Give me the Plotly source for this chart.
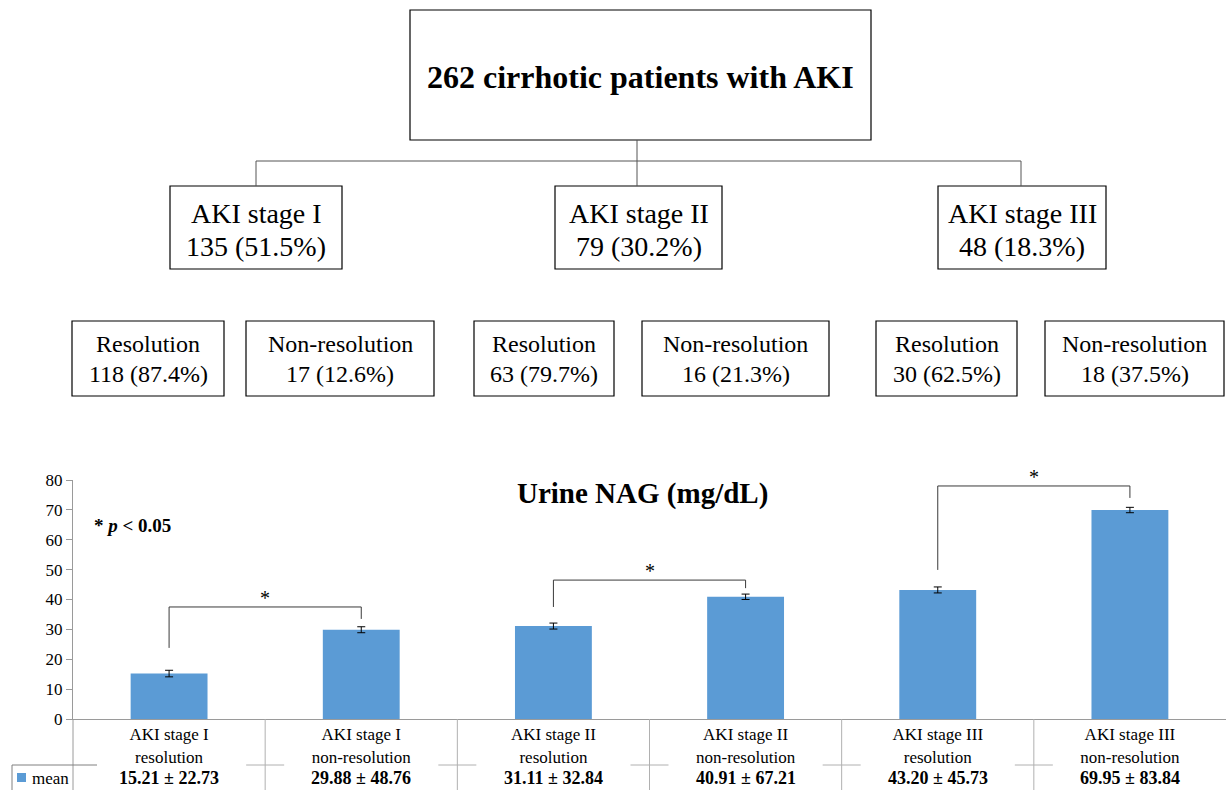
import plotly.graph_objects as go

# ---------------- data ----------------
total_patients = 262
stages = ["AKI stage I", "AKI stage II", "AKI stage III"]
stage_n = [135, 79, 48]
stage_pct = [51.5, 30.2, 18.3]
res_n = [118, 63, 30]
res_pct = [87.4, 79.7, 62.5]
nonres_n = [17, 16, 18]
nonres_pct = [12.6, 21.3, 37.5]

categories = [
    "AKI stage I<br>resolution", "AKI stage I<br>non-resolution",
    "AKI stage II<br>resolution", "AKI stage II<br>non-resolution",
    "AKI stage III<br>resolution", "AKI stage III<br>non-resolution",
]
means = [15.21, 29.88, 31.11, 40.91, 43.20, 69.95]
sds = [22.73, 48.76, 32.84, 67.21, 45.73, 83.84]
err_bars = [1.1, 1.0, 1.0, 0.9, 1.0, 0.9]
y_ticks = [0, 10, 20, 30, 40, 50, 60, 70, 80]

# significance brackets (pair indices, heights in axis units)
sig_pairs = [(0, 1), (2, 3), (4, 5)]
sig_top = [37.5, 46.5, 78.0]
sig_left_end = [23.8, 37.5, 49.9]
sig_right_end = [33.5, 43.8, 74.0]

# ---------------- layout helpers ----------------
W, H = 1226, 790
SERIF = "Liberation Serif, Times New Roman, serif"


def X(px):
    return px / W


def Y(py):
    return 1 - py / H


shapes = []
annotations = []


def box(x0, y0, x1, y1, color="black"):
    shapes.append(dict(type="rect", xref="paper", yref="paper",
                       x0=X(x0), x1=X(x1), y0=Y(y1), y1=Y(y0),
                       line=dict(color=color, width=1.2), fillcolor="white", layer="below"))


def line(x0, y0, x1, y1, color="#555555", width=1):
    shapes.append(dict(type="line", xref="paper", yref="paper",
                       x0=X(x0), x1=X(x1), y0=Y(y0), y1=Y(y1),
                       line=dict(color=color, width=width)))


def text(s, xp, yp, size, bold=False, color="black", xanchor="center"):
    if bold:
        s = "<b>" + s + "</b>"
    annotations.append(dict(text=s, xref="paper", yref="paper", x=X(xp), y=Y(yp),
                            xanchor=xanchor, yanchor="middle", showarrow=False,
                            font=dict(family=SERIF, size=size, color=color)))


# ---------------- flowchart ----------------
box(410, 10, 871, 140)
text(f"{total_patients} cirrhotic patients with AKI", 640, 77, 32, bold=True)

stage_boxes = [(170, 342), (555, 722), (938, 1106)]
stage_drop_x = [256, 637, 1021]
line(637, 140, 637, 161)
line(stage_drop_x[0], 161, stage_drop_x[-1], 161)
for i, (x0, x1) in enumerate(stage_boxes):
    line(stage_drop_x[i], 161, stage_drop_x[i], 186)
    box(x0, 186, x1, 269)
    cx = (x0 + x1) / 2
    text(stages[i], cx, 213, 28)
    text(f"{stage_n[i]} ({stage_pct[i]}%)", cx, 246, 28)

sub_boxes = [(72, 224), (246, 434), (474, 614), (642, 829), (876, 1017), (1045, 1224)]
for i in range(3):
    for j, (label, n, pct) in enumerate([("Resolution", res_n[i], res_pct[i]),
                                         ("Non-resolution", nonres_n[i], nonres_pct[i])]):
        x0, x1 = sub_boxes[2 * i + j]
        box(x0, 321, x1, 396)
        cx = (x0 + x1) / 2
        text(label, cx, 344, 24)
        text(f"{n} ({pct}%)", cx, 374, 24)

# ---------------- bar chart ----------------
x_idx = list(range(len(categories)))
fig = go.Figure()
fig.add_trace(go.Bar(
    x=x_idx, y=means, width=0.4, name="mean",
    marker=dict(color="#5B9BD5", line=dict(width=0)),
    error_y=dict(type="data", array=err_bars, color="black", thickness=1, width=4),
    showlegend=False,
))

AX_COLOR = "#9a9a9a"
PLOT_L, PLOT_B, PLOT_T = 73, 719, 480

# table lines below the axis
line(PLOT_L, PLOT_B, PLOT_L, 790, color=AX_COLOR)
for k in range(len(categories) - 1):
    shapes.append(dict(type="line", xref="x", yref="paper", x0=k + 0.5, x1=k + 0.5,
                       y0=Y(PLOT_B), y1=Y(790), line=dict(color="#b0b0b0", width=1)))
sep_px = [PLOT_L + (k + 1) * (W - PLOT_L) / len(categories) for k in range(len(categories) - 1)]
for sx in sep_px:
    line(sx - 19, 765, sx + 19, 765, color="#b0b0b0")
line(12, 765, 97, 765, color="#808080")
line(12, 765, 12, 790, color="#808080")

# legend key for "mean"
shapes.append(dict(type="rect", xref="paper", yref="paper", x0=X(17), x1=X(26),
                   y0=Y(782), y1=Y(773), fillcolor="#5B9BD5", line=dict(width=0)))
text("mean", 30, 778, 17, xanchor="left")

# value row
for k, (m, s) in enumerate(zip(means, sds)):
    annotations.append(dict(text=f"<b>{m:.2f} ± {s:.2f}</b>", xref="x", yref="paper",
                            x=k, y=Y(777.5), xanchor="center", yanchor="middle", showarrow=False,
                            font=dict(family=SERIF, size=18, color="black")))

# significance brackets
for (a, b), top, le, re in zip(sig_pairs, sig_top, sig_left_end, sig_right_end):
    for (x0, y0, x1, y1) in [(a, le, a, top), (a, top, b, top), (b, top, b, re)]:
        shapes.append(dict(type="line", xref="x", yref="y", x0=x0, y0=y0, x1=x1, y1=y1,
                           line=dict(color="#3a3a3a", width=1)))
    annotations.append(dict(text="*", xref="x", yref="y", x=(a + b) / 2, y=top,
                            yanchor="middle", yshift=9, showarrow=False,
                            font=dict(family=SERIF, size=20, color="black")))

# chart title and p-value note
text("Urine NAG (mg/dL)", 642, 493, 29, bold=True)
annotations.append(dict(text="<b>* <i>p</i> &lt; 0.05</b>", xref="paper", yref="paper",
                        x=X(92), y=Y(525), xanchor="left", yanchor="middle", showarrow=False,
                        font=dict(family=SERIF, size=19, color="black")))

fig.update_layout(
    width=W, height=H,
    margin=dict(l=0, r=0, t=0, b=0, pad=0, autoexpand=False),
    paper_bgcolor="white", plot_bgcolor="white",
    shapes=shapes, annotations=annotations,
    bargap=0.6,
    xaxis=dict(domain=[X(PLOT_L), 1], range=[-0.5, 5.5], tickmode="array",
               tickvals=x_idx, ticktext=categories, ticks="", showgrid=False,
               zeroline=False, showline=True, linecolor=AX_COLOR, linewidth=1,
               automargin=False,
               tickfont=dict(family=SERIF, size=17, color="black"), fixedrange=True),
    yaxis=dict(domain=[Y(PLOT_B), Y(PLOT_T)], range=[0, 80], tickmode="array",
               tickvals=y_ticks, ticks="outside", ticklen=6, tickcolor=AX_COLOR,
               showgrid=False, zeroline=False, showline=True, linecolor=AX_COLOR,
               linewidth=1, automargin=False,
               tickfont=dict(family=SERIF, size=17, color="black"),
               fixedrange=True),
)

fig.write_html(
    "out.html",
    config={"displayModeBar": False},
    post_script="document.body.style.margin='0';document.body.style.overflow='hidden';",
)
